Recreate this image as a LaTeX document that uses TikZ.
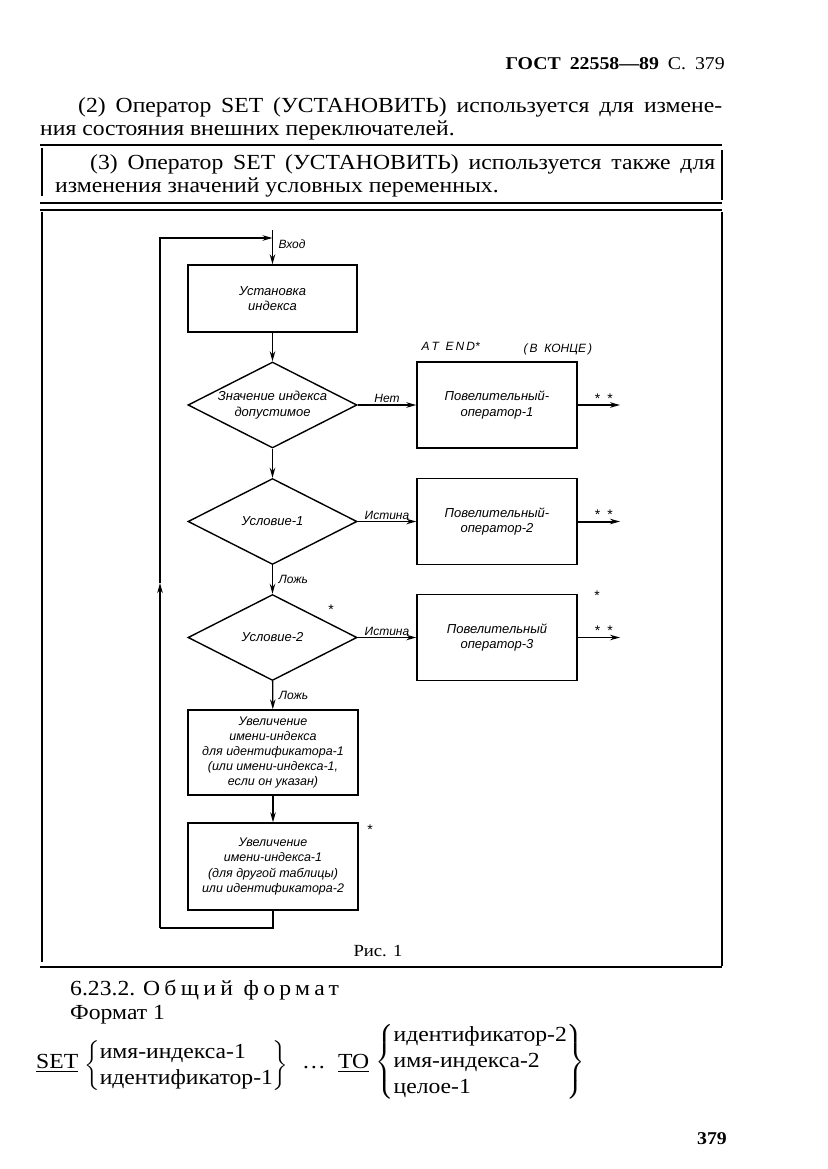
\documentclass[tikz,border=0pt]{standalone}
\usepackage{fontspec}
\usepackage{amsmath}
\setmainfont[FakeStretch=1.1]{Liberation Serif}
\newfontfamily\gostfont{Liberation Sans}
\usetikzlibrary{arrows.meta,shapes.geometric,positioning}
\newcommand{\justline}[2]{\makebox[#1][s]{#2}}

\begin{document}
\begin{tikzpicture}[
  x=1pt,y=-1pt,
  body/.style={inner sep=0pt,font=\fontsize{21.5}{26}\selectfont},
  rule/.style={line width=1.6pt},
  block/.style={draw,line width=1.4pt,rectangle,inner sep=2pt,align=center,
    minimum width=169pt,minimum height=86pt,
    font=\gostfont\itshape\fontsize{13}{15.5}\selectfont},
  decision/.style={block,diamond,shape aspect=2,inner sep=0pt,minimum height=86pt},
  wire/.style={-{Stealth[length=10pt,width=5.5pt]},line width=1.4pt},
  outwire/.style={wire,line width=2pt},
  lbl/.style={inner sep=1.5pt,font=\gostfont\itshape\fontsize{12}{14}\selectfont},
  starlbl/.style={inner sep=1pt,font=\gostfont\fontsize{14}{16}\selectfont},
]
  \useasboundingbox (0,0) rectangle (827,1169);
  \fill[white] (0,0) rectangle (827,1169);

  % running head and the text above the figure
  \node[body,anchor=base east,font=\fontsize{18}{22}\selectfont] (head) at (725,70)
    {\textbf{ГОСТ\enspace 22558—89}\enspace С.\enspace 379};
  \node[body,anchor=base west] (line1) at (78,113)
    {\justline{644pt}{(2) Оператор SET (УСТАНОВИТЬ) используется для измене-}};
  \node[body,anchor=base west] (line2) at (40,136)
    {ния состояния внешних переключателей.};
  \draw[rule] (40,145) -- (722,145);
  \draw[rule] (42,148) -- (42,196);
  \draw[rule] (722,150) -- (722,200);
  \node[body,anchor=base west] (line3) at (90,170)
    {\justline{625pt}{(3) Оператор SET (УСТАНОВИТЬ) используется также для}};
  \node[body,anchor=base west] (line4) at (55,193)
    {изменения значений условных переменных.};
  \draw[rule] (40,203) -- (722,203);

  % figure frame
  \draw[rule] (40,210) -- (722,210);
  \draw[rule] (42,212) -- (42,962);
  \draw[rule] (722,212) -- (722,966);
  \draw[rule] (40,967) -- (722,967);
  \node[body,font=\fontsize{17}{20}\selectfont] (caption) at (378,951) {Рис. 1};

  % flowchart
  \node[block,minimum height=67pt] (setidx) at (272.5,298.5) {Установка\\индекса};
  \node[decision] (valid) at (272.5,405) {Значение индекса\\допустимое};
  \node[decision] (cond1) at (272.5,521.5) {Условие-1};
  \node[decision] (cond2) at (272.5,637.5) {Условие-2};
  \node[block,minimum width=170pt,minimum height=85pt,font=\gostfont\itshape\fontsize{12.5}{14.8}\selectfont]
    (inc1) at (273,752.5)
    {Увеличение\\имени-индекса\\для идентификатора-1\\(или имени-индекса-1,\\если он указан)};
  \node[block,minimum width=170pt,minimum height=87pt,font=\gostfont\itshape\fontsize{12.5}{15.5}\selectfont]
    (inc2) at (273,866.5)
    {Увеличение\\имени-индекса-1\\(для другой таблицы)\\или идентификатора-2};
  \node[block,minimum width=160pt] (imp1) at (497,405) {Повелительный-\\оператор-1};
  \node[block,minimum width=160pt] (imp2) at (497,521.5) {Повелительный-\\оператор-2};
  \node[block,minimum width=160pt] (imp3) at (497,637.5) {Повелительный\\оператор-3};

  \node[lbl,anchor=base west] (atend) at (420,350) {A\,T\ \ E\,N\,D*};
  \node[lbl,anchor=base west] (vkonce) at (522,352) {(\,В\ \ КОНЦЕ\,)};
  \node[starlbl] (star1) at (331,610) {*};
  \node[starlbl] (star2) at (597,596) {*};
  \node[starlbl] (star3) at (370,830) {*};

  \coordinate (entrytop) at (272.5,230);
  \coordinate (entry) at (272.5,238);
  \coordinate (loopup) at (160,583);
  \coordinate (loopbl) at (160,928);
  \coordinate (out1) at (620,405);
  \coordinate (out2) at (620,521.5);
  \coordinate (out3) at (620,637.5);

  \draw[wire] (entrytop) -- node[lbl,right,pos=0.4,xshift=4pt] {Вход} (setidx);
  \draw[wire] (setidx) -- (valid);
  \draw[wire] (valid) -- node[lbl,above] {Нет} (imp1);
  \draw[wire] (valid) -- (cond1);
  \draw[wire] (cond1) -- node[lbl,above] {Истина} (imp2);
  \draw[wire] (cond1) -- node[lbl,right,xshift=4pt] {Ложь} (cond2);
  \draw[wire] (cond2) -- node[lbl,above] {Истина} (imp3);
  \draw[wire] (cond2) -- node[lbl,right,xshift=4pt] {Ложь} (inc1);
  \draw[wire] (inc1) -- (inc2);
  \draw[line width=1.4pt] (inc2.south) |- (loopbl);
  \draw[wire] (loopbl) -- (loopup);
  \draw[wire] (loopup) |- (entry);

  \draw[outwire] (imp1) -- node[starlbl,above,pos=0.62] {*\enspace*} (out1);
  \draw[outwire] (imp2) -- node[starlbl,above,pos=0.62] {*\enspace*} (out2);
  \draw[wire] (imp3) -- node[starlbl,above,pos=0.62] {*\enspace*} (out3);

  % general format
  \node[body,anchor=base west] (fmthead) at (70,995)
    {6.23.2. {\addfontfeature{LetterSpace=20}Общий\enspace формат}};
  \node[body,anchor=base west] (fmtone) at (70,1019) {Формат 1};
  \node[body,anchor=base west] (setkw) at (36,1068) {\underline{SET}};
  \node[body,anchor=west] (grp1) at (84,1066)
    {$\left\{\begin{array}{@{}l@{}}\text{имя-индекса-1}\\ \text{идентификатор-1}\end{array}\right\}$};
  \node[body,anchor=base west] (dots) at (302,1068) {\dots};
  \node[body,anchor=base west] (tokw) at (338,1068) {\underline{TO}};
  \node[body,anchor=west] (grp2) at (375,1062)
    {$\left\{\begin{array}{@{}l@{}}\text{идентификатор-2}\\ \text{имя-индекса-2}\\ \text{целое-1}\end{array}\right\}$};

  \node[body,anchor=base east,font=\fontsize{18}{22}\selectfont\bfseries] (pageno) at (727,1144) {379};
\end{tikzpicture}
\end{document}
